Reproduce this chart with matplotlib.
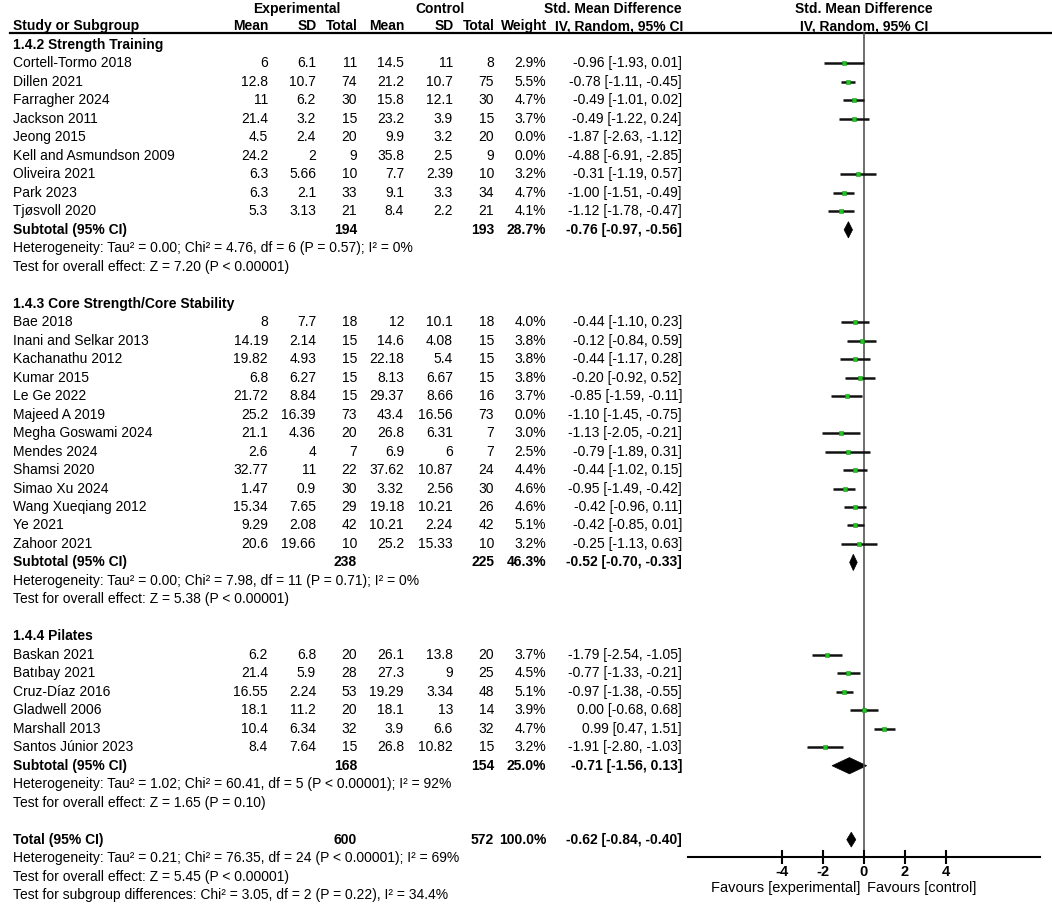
import numpy as np
import matplotlib.pyplot as plt
from matplotlib.patches import Polygon

plt.rcParams['font.family'] = ['Liberation Sans', 'DejaVu Sans']

# 1.4.2 Strength Training
st_names = ["Cortell-Tormo 2018", "Dillen 2021", "Farragher 2024", "Jackson 2011", "Jeong 2015",
            "Kell and Asmundson 2009", "Oliveira 2021", "Park 2023", "Tjøsvoll 2020"]
st_exp_mean = [6, 12.8, 11, 21.4, 4.5, 24.2, 6.3, 6.3, 5.3]
st_exp_sd = [6.1, 10.7, 6.2, 3.2, 2.4, 2, 5.66, 2.1, 3.13]
st_exp_n = [11, 74, 30, 15, 20, 9, 10, 33, 21]
st_ctl_mean = [14.5, 21.2, 15.8, 23.2, 9.9, 35.8, 7.7, 9.1, 8.4]
st_ctl_sd = [11, 10.7, 12.1, 3.9, 3.2, 2.5, 2.39, 3.3, 2.2]
st_ctl_n = [8, 75, 30, 15, 20, 9, 10, 34, 21]
st_weight = [2.9, 5.5, 4.7, 3.7, 0.0, 0.0, 3.2, 4.7, 4.1]
st_smd = [-0.96, -0.78, -0.49, -0.49, -1.87, -4.88, -0.31, -1.00, -1.12]
st_lo = [-1.93, -1.11, -1.01, -1.22, -2.63, -6.91, -1.19, -1.51, -1.78]
st_hi = [0.01, -0.45, 0.02, 0.24, -1.12, -2.85, 0.57, -0.49, -0.47]

# 1.4.3 Core Strength/Core Stability
cs_names = ["Bae 2018", "Inani and Selkar 2013", "Kachanathu 2012", "Kumar 2015", "Le Ge 2022",
            "Majeed A 2019", "Megha Goswami 2024", "Mendes 2024", "Shamsi 2020", "Simao Xu 2024",
            "Wang Xueqiang 2012", "Ye 2021", "Zahoor 2021"]
cs_exp_mean = [8, 14.19, 19.82, 6.8, 21.72, 25.2, 21.1, 2.6, 32.77, 1.47, 15.34, 9.29, 20.6]
cs_exp_sd = [7.7, 2.14, 4.93, 6.27, 8.84, 16.39, 4.36, 4, 11, 0.9, 7.65, 2.08, 19.66]
cs_exp_n = [18, 15, 15, 15, 15, 73, 20, 7, 22, 30, 29, 42, 10]
cs_ctl_mean = [12, 14.6, 22.18, 8.13, 29.37, 43.4, 26.8, 6.9, 37.62, 3.32, 19.18, 10.21, 25.2]
cs_ctl_sd = [10.1, 4.08, 5.4, 6.67, 8.66, 16.56, 6.31, 6, 10.87, 2.56, 10.21, 2.24, 15.33]
cs_ctl_n = [18, 15, 15, 15, 16, 73, 7, 7, 24, 30, 26, 42, 10]
cs_weight = [4.0, 3.8, 3.8, 3.8, 3.7, 0.0, 3.0, 2.5, 4.4, 4.6, 4.6, 5.1, 3.2]
cs_smd = [-0.44, -0.12, -0.44, -0.20, -0.85, -1.10, -1.13, -0.79, -0.44, -0.95, -0.42, -0.42, -0.25]
cs_lo = [-1.10, -0.84, -1.17, -0.92, -1.59, -1.45, -2.05, -1.89, -1.02, -1.49, -0.96, -0.85, -1.13]
cs_hi = [0.23, 0.59, 0.28, 0.52, -0.11, -0.75, -0.21, 0.31, 0.15, -0.42, 0.11, 0.01, 0.63]

# 1.4.4 Pilates
pi_names = ["Baskan 2021", "Batıbay 2021", "Cruz-Díaz 2016", "Gladwell 2006", "Marshall 2013",
            "Santos Júnior 2023"]
pi_exp_mean = [6.2, 21.4, 16.55, 18.1, 10.4, 8.4]
pi_exp_sd = [6.8, 5.9, 2.24, 11.2, 6.34, 7.64]
pi_exp_n = [20, 28, 53, 20, 32, 15]
pi_ctl_mean = [26.1, 27.3, 19.29, 18.1, 3.9, 26.8]
pi_ctl_sd = [13.8, 9, 3.34, 13, 6.6, 10.82]
pi_ctl_n = [20, 25, 48, 14, 32, 15]
pi_weight = [3.7, 4.5, 5.1, 3.9, 4.7, 3.2]
pi_smd = [-1.79, -0.77, -0.97, 0.00, 0.99, -1.91]
pi_lo = [-2.54, -1.33, -1.38, -0.68, 0.47, -2.80]
pi_hi = [-1.05, -0.21, -0.55, 0.68, 1.51, -1.03]

# subgroup totals
group_titles = ["1.4.2 Strength Training", "1.4.3 Core Strength/Core Stability", "1.4.4 Pilates"]
sub_exp_n = [194, 238, 168]
sub_ctl_n = [193, 225, 154]
sub_weight = [28.7, 46.3, 25.0]
sub_smd = [-0.76, -0.52, -0.71]
sub_lo = [-0.97, -0.70, -1.56]
sub_hi = [-0.56, -0.33, 0.13]
sub_het = ["Heterogeneity: Tau² = 0.00; Chi² = 4.76, df = 6 (P = 0.57); I² = 0%",
           "Heterogeneity: Tau² = 0.00; Chi² = 7.98, df = 11 (P = 0.71); I² = 0%",
           "Heterogeneity: Tau² = 1.02; Chi² = 60.41, df = 5 (P < 0.00001); I² = 92%"]
sub_z = ["Test for overall effect: Z = 7.20 (P < 0.00001)",
         "Test for overall effect: Z = 5.38 (P < 0.00001)",
         "Test for overall effect: Z = 1.65 (P = 0.10)"]

# overall
tot_exp_n, tot_ctl_n, tot_weight = 600, 572, 100.0
tot_smd, tot_lo, tot_hi = -0.62, -0.84, -0.40
tot_notes = ["Heterogeneity: Tau² = 0.21; Chi² = 76.35, df = 24 (P < 0.00001); I² = 69%",
             "Test for overall effect: Z = 5.45 (P < 0.00001)",
             "Test for subgroup differences: Chi² = 3.05, df = 2 (P = 0.22), I² = 34.4%"]

groups = [
    (st_names, st_exp_mean, st_exp_sd, st_exp_n, st_ctl_mean, st_ctl_sd, st_ctl_n, st_weight, st_smd, st_lo, st_hi),
    (cs_names, cs_exp_mean, cs_exp_sd, cs_exp_n, cs_ctl_mean, cs_ctl_sd, cs_ctl_n, cs_weight, cs_smd, cs_lo, cs_hi),
    (pi_names, pi_exp_mean, pi_exp_sd, pi_exp_n, pi_ctl_mean, pi_ctl_sd, pi_ctl_n, pi_weight, pi_smd, pi_lo, pi_hi),
]

W, H = 1052, 905
ROW0, PITCH = 45, 18.48          # pixel y of first row, row spacing
col_x = [268, 316, 357, 404, 453, 494, 546, 682]   # right edges of the numeric columns
FS = 10


def row_of(py):
    return (py - ROW0) / PITCH


fig = plt.figure(figsize=(W / 100, H / 100), dpi=100)
tab = fig.add_axes([0, 0, 1, 1])
tab.set_xlim(0, W)
tab.set_ylim(row_of(H), row_of(0))
tab.axis('off')

fx0, fx1 = 688, 1040
forest = fig.add_axes([fx0 / W, 0, (fx1 - fx0) / W, 1])
forest.set_facecolor('none')
half = (fx1 - fx0) / 2 / 20.5
forest.set_xlim(-half, half)
forest.set_ylim(row_of(H), row_of(0))


def txt(x, r, s, ha='right', bold=False, fs=FS):
    tab.text(x, r, s, ha=ha, va='center', fontsize=fs, fontweight='bold' if bold else 'normal')


# header
txt(297, row_of(9), "Experimental", ha='center', bold=True)
txt(440, row_of(9), "Control", ha='center', bold=True)
txt(682, row_of(9), "Std. Mean Difference", bold=True)
txt(864, row_of(9), "Std. Mean Difference", ha='center', bold=True)
r_head = row_of(26)
txt(13, r_head, "Study or Subgroup", ha='left', bold=True)
for x, lab in zip(col_x, ["Mean", "SD", "Total", "Mean", "SD", "Total", "Weight", "IV, Random, 95% CI"]):
    txt(x + 1, r_head, lab, bold=True)
txt(864, r_head, "IV, Random, 95% CI", ha='center', bold=True)
r_line = row_of(33)
tab.plot([10, W], [r_line, r_line], color='black', lw=1.6)


def diamond(r, est, lo, hi, h=0.44):
    forest.add_patch(Polygon([(lo, r), (est, r - h), (hi, r), (est, r + h)], closed=True,
                             facecolor='black', edgecolor='black', lw=0.5))


r = 0
for gi, g in enumerate(groups):
    names, em, esd, en, cm, csd, cn, wt, smd, lo, hi = g
    txt(13, r, group_titles[gi], ha='left', bold=True)
    r += 1
    for i in range(len(names)):
        txt(13, r, names[i], ha='left')
        vals = [f"{em[i]:g}", f"{esd[i]:g}", f"{en[i]}", f"{cm[i]:g}", f"{csd[i]:g}", f"{cn[i]}",
                f"{wt[i]:.1f}%", f"{smd[i]:.2f} [{lo[i]:.2f}, {hi[i]:.2f}]"]
        for x, v in zip(col_x, vals):
            txt(x, r, v)
        if wt[i] > 0:
            forest.plot([lo[i], hi[i]], [r, r], color='#111111', lw=1.8, solid_capstyle='butt', zorder=2)
            side = 2.1 * np.sqrt(wt[i]) * 0.72
            forest.scatter([smd[i]], [r], marker='s', s=side ** 2, color='#22c422',
                           edgecolors='#119911', linewidths=0.4, zorder=3)
        r += 1
    txt(13, r, "Subtotal (95% CI)", ha='left', bold=True)
    txt(col_x[2], r, f"{sub_exp_n[gi]}", bold=True)
    txt(col_x[5], r, f"{sub_ctl_n[gi]}", bold=True)
    txt(col_x[6], r, f"{sub_weight[gi]:.1f}%", bold=True)
    txt(col_x[7], r, f"{sub_smd[gi]:.2f} [{sub_lo[gi]:.2f}, {sub_hi[gi]:.2f}]", bold=True)
    diamond(r, sub_smd[gi], sub_lo[gi], sub_hi[gi])
    r += 1
    txt(13, r, sub_het[gi], ha='left')
    r += 1
    txt(13, r, sub_z[gi], ha='left')
    r += 2

txt(13, r, "Total (95% CI)", ha='left', bold=True)
txt(col_x[2], r, f"{tot_exp_n}", bold=True)
txt(col_x[5], r, f"{tot_ctl_n}", bold=True)
txt(col_x[6], r, f"{tot_weight:.1f}%", bold=True)
txt(col_x[7], r, f"{tot_smd:.2f} [{tot_lo:.2f}, {tot_hi:.2f}]", bold=True)
diamond(r, tot_smd, tot_lo, tot_hi, h=0.4)
for note in tot_notes:
    r += 1
    txt(13, r, note, ha='left')

# forest axis
r_axis = row_of(857)
forest.plot([0, 0], [r_line, r_axis], color='#555555', lw=1.2, zorder=1)
for side in ['top', 'left', 'right']:
    forest.spines[side].set_visible(False)
forest.spines['bottom'].set_position(('data', r_axis))
forest.spines['bottom'].set_linewidth(1.5)
forest.set_yticks([])
forest.set_xticks([-4, -2, 0, 2, 4])
forest.set_xticklabels(["-4", "-2", "0", "2", "4"], fontsize=10.5, fontweight='bold')
forest.tick_params(axis='x', direction='inout', length=10, width=1.5, pad=1)
txt(786, row_of(888), "Favours [experimental]", ha='center', fs=10.5)
txt(922, row_of(888), "Favours [control]", ha='center', fs=10.5)

fig.savefig("out.png", dpi=100)
